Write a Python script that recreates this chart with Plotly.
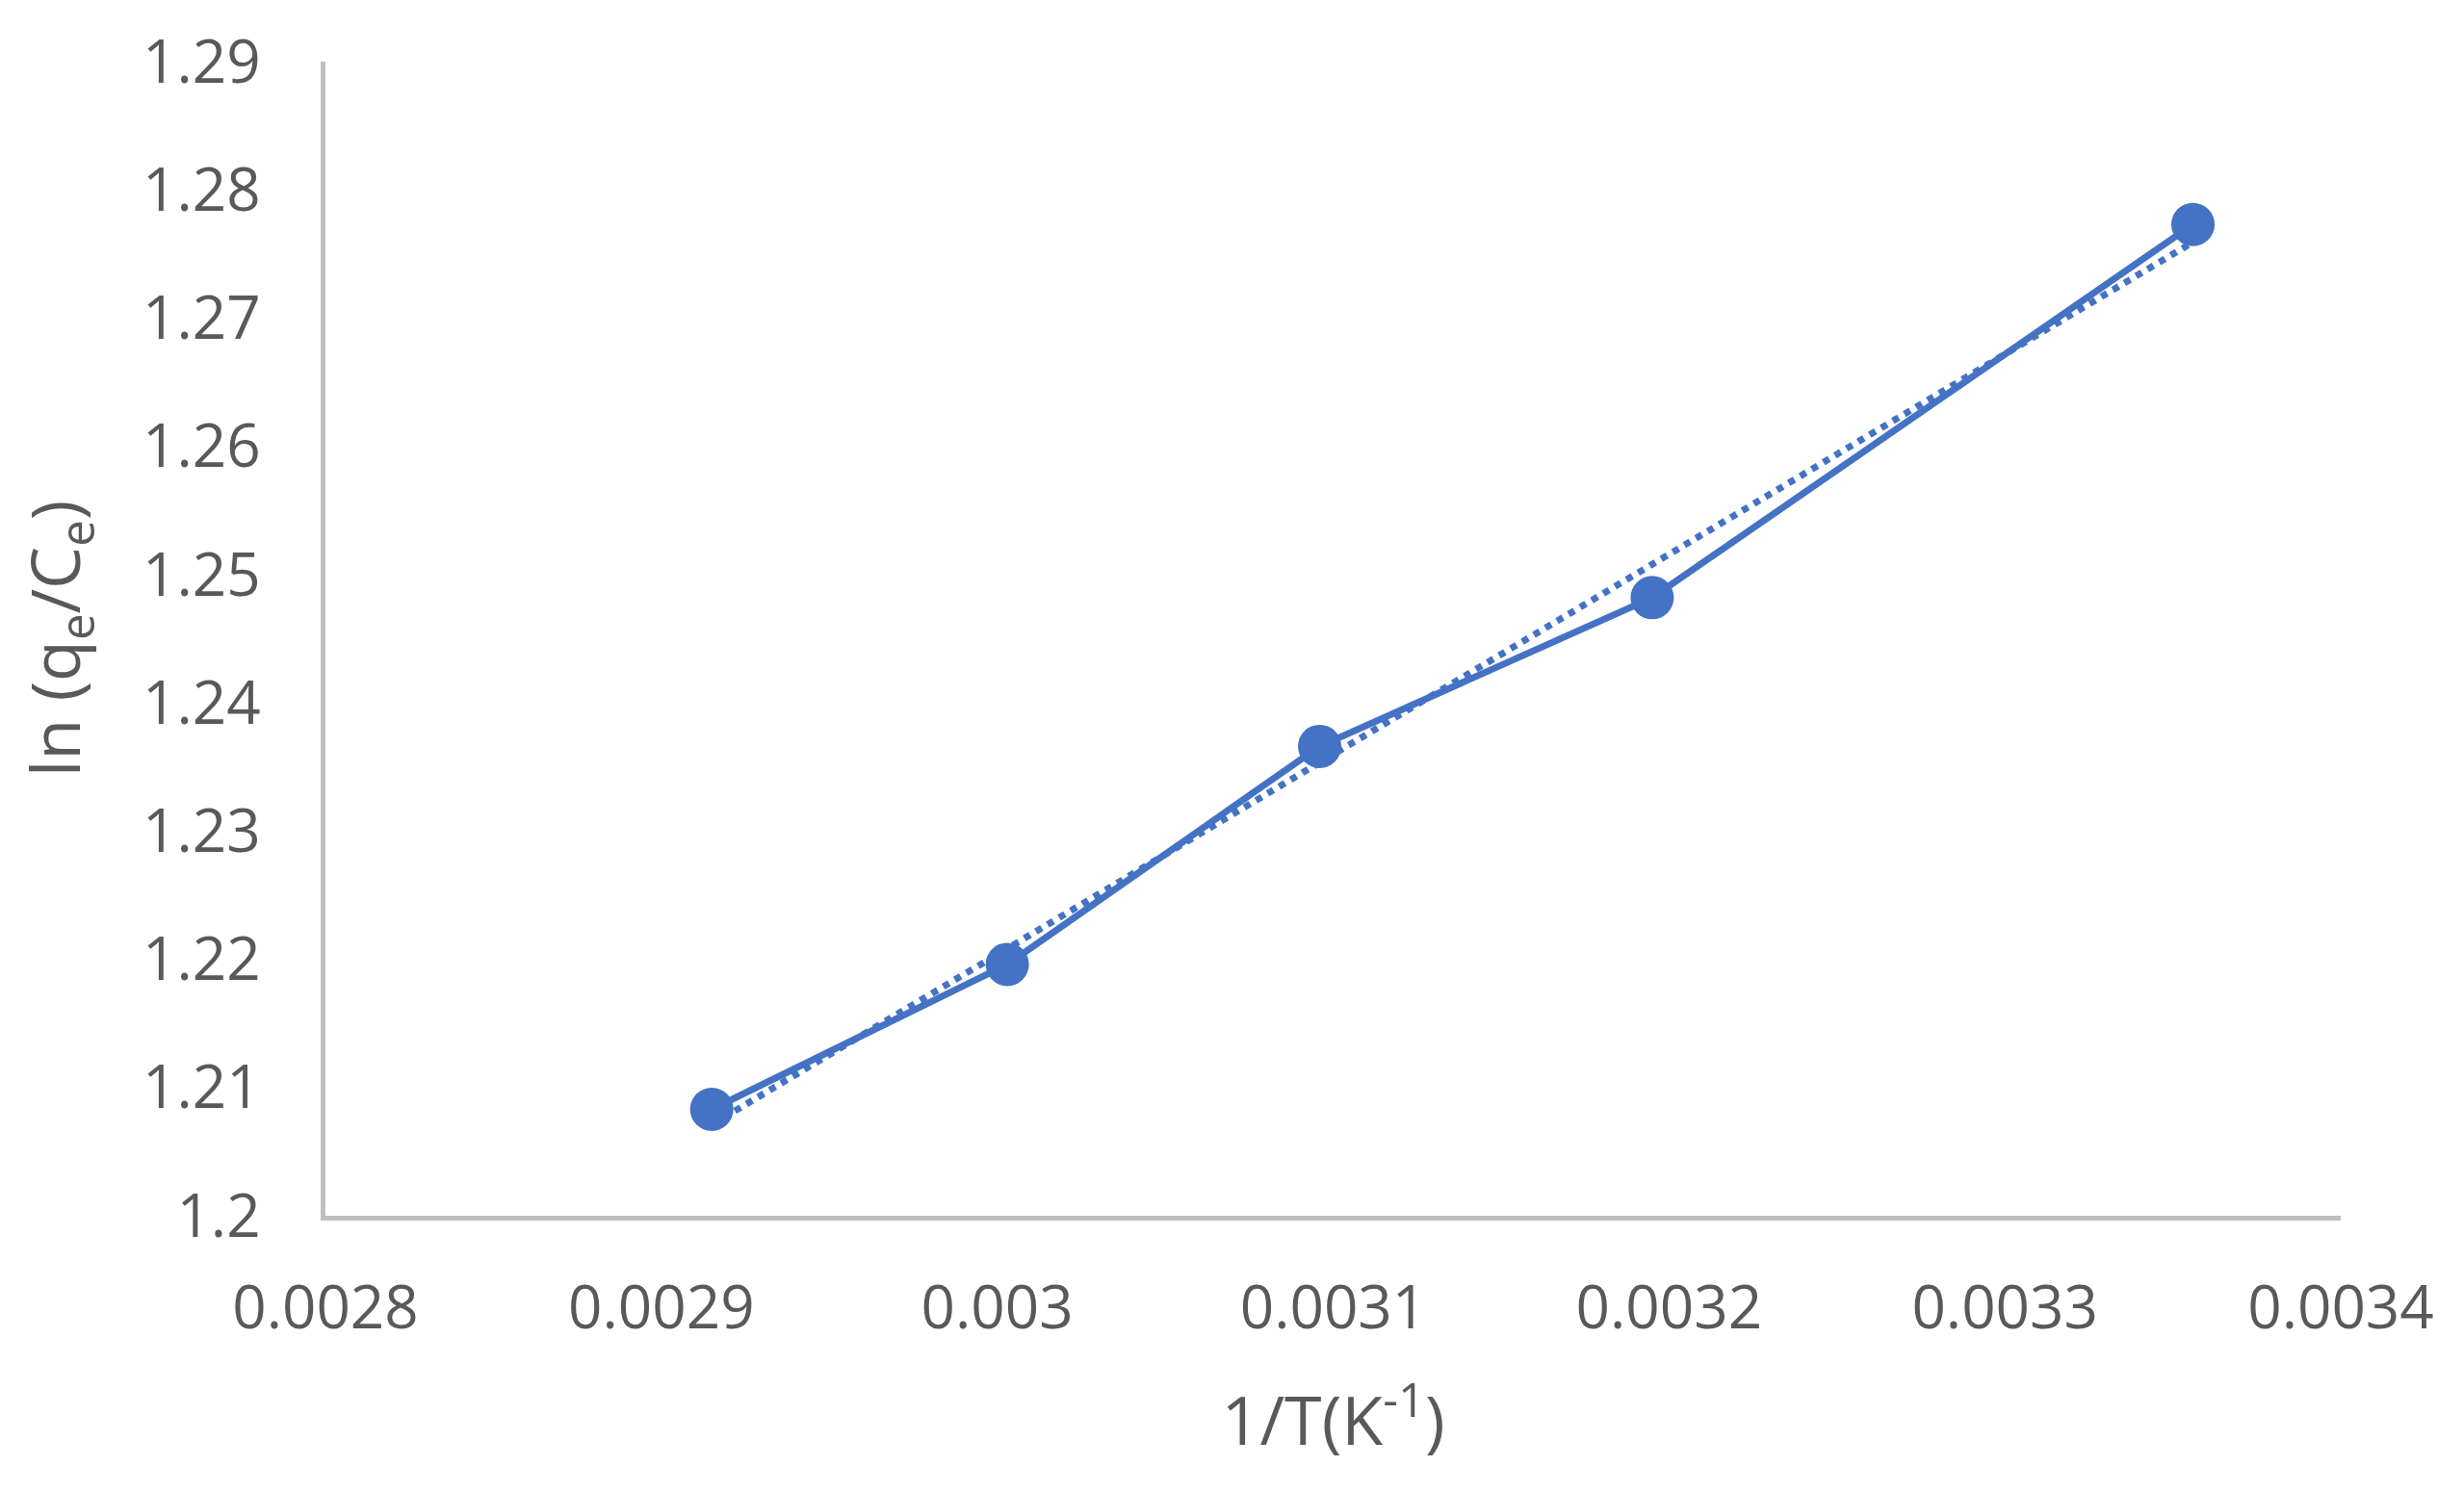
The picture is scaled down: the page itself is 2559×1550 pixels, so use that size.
import numpy as np
import plotly.graph_objects as go

# data
inv_T = [0.002915, 0.003003, 0.003096, 0.003195, 0.003356]
ln_qe_ce = [1.2083, 1.2196, 1.2366, 1.2482, 1.2773]

x_ticks = [0.0028, 0.0029, 0.003, 0.0031, 0.0032, 0.0033, 0.0034]
x_labels = ["0.0028", "0.0029", "0.003", "0.0031", "0.0032", "0.0033", "0.0034"]
y_ticks = [1.2, 1.21, 1.22, 1.23, 1.24, 1.25, 1.26, 1.27, 1.28, 1.29]
y_labels = ["1.2", "1.21", "1.22", "1.23", "1.24", "1.25", "1.26", "1.27", "1.28", "1.29"]

blue = "#4472C4"
grey = "#595959"

# linear trendline (like Excel's)
slope, intercept = np.polyfit(inv_T, ln_qe_ce, 1)
trend_x = [inv_T[0], inv_T[-1]]
trend_y = [slope * v + intercept for v in trend_x]

fig = go.Figure()
fig.add_trace(go.Scatter(x=trend_x, y=trend_y, mode="lines",
                         line=dict(color=blue, width=7, dash="dot"), showlegend=False))
fig.add_trace(go.Scatter(x=inv_T, y=ln_qe_ce, mode="lines+markers",
                         line=dict(color=blue, width=7),
                         marker=dict(color=blue, size=45), showlegend=False))

fig.update_xaxes(range=[0.0028, 0.0034], tickvals=x_ticks, ticktext=x_labels,
                 showgrid=False, zeroline=False, showline=True, linecolor="#BFBFBF", linewidth=5,
                 ticks="outside", ticklen=38, tickcolor="rgba(0,0,0,0)",
                 tickfont=dict(size=62, color=grey),
                 title=dict(text="1/T(K<sup>-1</sup>)", font=dict(size=70, color=grey), standoff=56))
fig.update_yaxes(range=[1.2, 1.29], tickvals=y_ticks, ticktext=y_labels,
                 showgrid=False, zeroline=False, showline=True, linecolor="#BFBFBF", linewidth=5,
                 ticks="outside", ticklen=50, tickcolor="rgba(0,0,0,0)",
                 tickfont=dict(size=62, color=grey),
                 title=dict(text="ln (q<sub>e</sub>/C<sub>e</sub>)", font=dict(size=70, color=grey), standoff=45))

fig.update_layout(width=2559, height=1550,
                  margin=dict(l=330, r=136, t=54, b=295),
                  plot_bgcolor="white", paper_bgcolor="white",
                  font=dict(family="Open Sans", color=grey))

fig.write_html("out.html")
